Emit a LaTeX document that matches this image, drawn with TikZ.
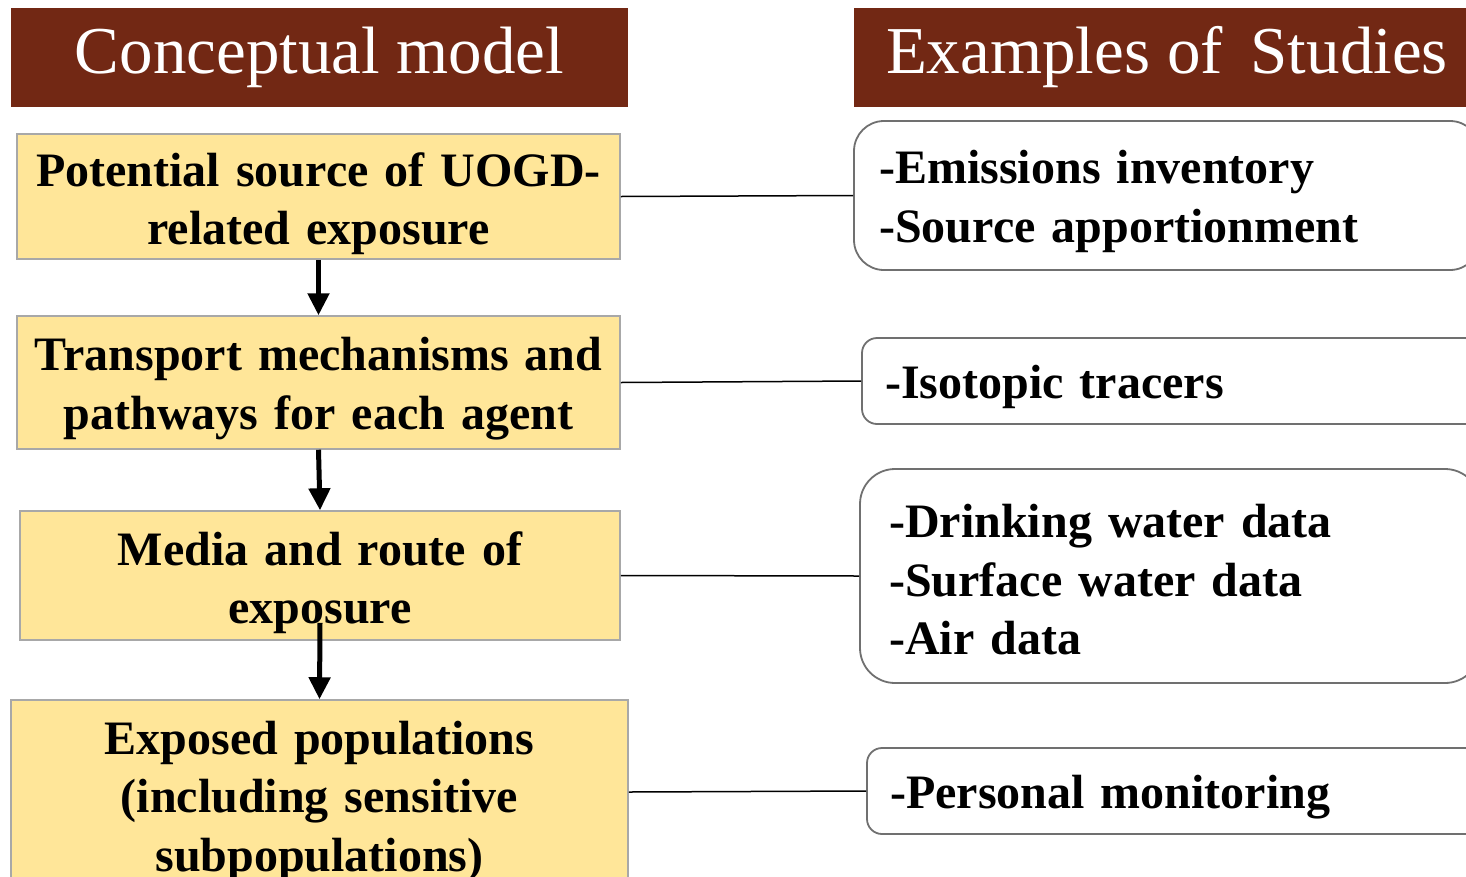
\documentclass[tikz,border=0pt]{standalone}
\usepackage{fontspec}
\setmainfont{Liberation Serif}
\usetikzlibrary{arrows.meta}
\definecolor{hdrbrown}{HTML}{722814}
\definecolor{boxyellow}{HTML}{FFE699}
\definecolor{ybord}{HTML}{A8A8A8}
\definecolor{rbord}{HTML}{707070}
\tikzset{
  header/.style={fill=hdrbrown, draw=none, text=white, inner sep=0pt,
    font=\fontsize{67}{70}\selectfont},
  ybox/.style={fill=boxyellow, draw=ybord, line width=1.5pt, inner sep=0pt},
  rbox/.style={fill=white, draw=rbord, line width=1.8pt, inner sep=0pt},
  ytext/.style={inner sep=0pt, align=center, text width=600pt,
    font=\bfseries\fontsize{48}{58.5}\selectfont},
  rtext/.style={inner sep=0pt, align=left, text width=560pt, anchor=west,
    font=\bfseries\fontsize{48}{58.5}\selectfont},
  flowarrow/.style={line width=5pt, -{Triangle[width=21pt,length=22pt]}},
  link/.style={line width=1.5pt, black}
}
\begin{document}
\begin{tikzpicture}[x=1pt,y=-1pt]
\useasboundingbox (0,0) rectangle (1466,876);
\clip (0,0) rectangle (1466,876);
\fill[white] (0,0) rectangle (1466,876);
% headers
\node[header, minimum width=617pt, minimum height=99pt] (h1) at (319.5,57.5) {Conceptual model};
\node[header, minimum width=626pt, minimum height=99pt] (h2) at (1167,57.5) {Examples of\, Studies};
% left boxes
\node[ybox, minimum width=603pt, minimum height=125pt] (b1) at (318.5,196.5) {};
\node[ybox, minimum width=603pt, minimum height=133pt] (b2) at (318.5,382.5) {};
\node[ybox, minimum width=600pt, minimum height=129pt] (b3) at (320,575.5) {};
\node[ybox, minimum width=617pt, minimum height=200pt] (b4) at (319.5,800) {};
\node[ytext] (t1) at ([yshift=-7pt]b1.center) {Potential source of UOGD-\\related exposure};
\node[ytext] (t2) at ([yshift=-6pt]b2.center) {Transport mechanisms and\\pathways for each agent};
\node[ytext] (t3) at ([yshift=-7pt]b3.center) {Media and route of\\exposure};
\node[ytext] (t4) at ([yshift=-1pt]b4.center) {Exposed populations\\(including sensitive\\subpopulations)};
% right boxes
\node[rbox, rounded corners=30pt, minimum width=626pt, minimum height=149pt] (r1) at (1167,195.5) {};
\node[rbox, rounded corners=15pt, minimum width=618pt, minimum height=86pt] (r2) at (1171,381) {};
\node[rbox, rounded corners=35pt, minimum width=620pt, minimum height=214pt] (r3) at (1170,576) {};
\node[rbox, rounded corners=15pt, minimum width=613pt, minimum height=86pt] (r4) at (1173.5,791) {};
\node[rtext] (s1) at ([xshift=26pt,yshift=-6pt]r1.west) {-Emissions inventory\\-Source apportionment};
\node[rtext] (s2) at ([xshift=24pt,yshift=-6pt]r2.west) {-Isotopic tracers};
\node[rtext] (s3) at ([xshift=30pt,yshift=-4pt]r3.west) {-Drinking water data\\-Surface water data\\-Air data};
\node[rtext] (s4) at ([xshift=24pt,yshift=-6pt]r4.west) {-Personal monitoring};
% arrows
\draw[flowarrow] (b1.south) -- (b2.north);
\draw[flowarrow] (b2.south) -- (b3.north);
\draw[flowarrow] ([yshift=18pt]b3.south) -- (b4.north);
% links
\draw[link] (b1.east) -- (r1.west);
\draw[link] (b2.east) -- (r2.west);
\draw[link] (b3.east) -- (r3.west);
\draw[link] ([yshift=8pt]b4.east) -- (r4.west);
\end{tikzpicture}
\end{document}
